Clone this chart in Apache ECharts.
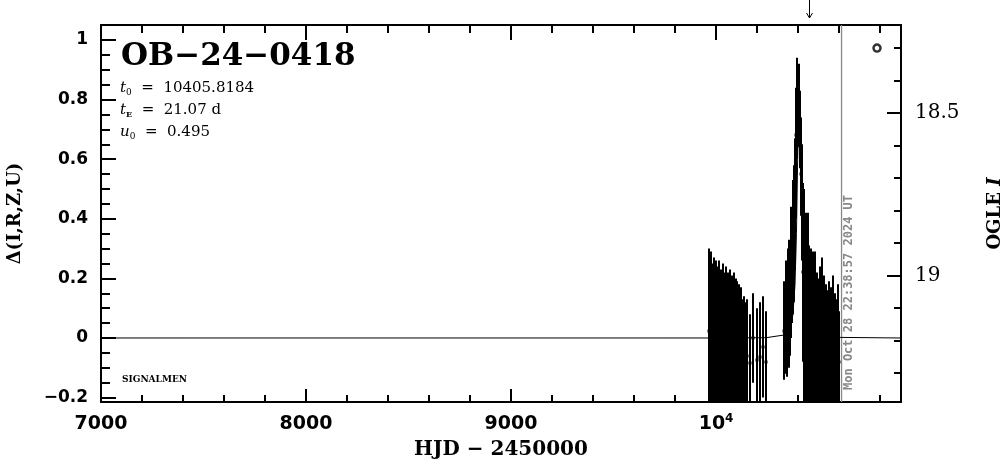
<!DOCTYPE html>
<html><head><meta charset="utf-8">
<script src="https://cdn.jsdelivr.net/npm/echarts@6/dist/echarts.min.js"></script>
<style>html,body{margin:0;padding:0;background:#fff}#c{width:1004px;height:459px}</style>
</head><body><div id="c"></div><script>
// ---- tick definitions ----
const xMajorTicks = [7000, 8000, 9000, 10000];
const xMinorTicks = [7200, 7400, 7600, 7800, 8200, 8400, 8600, 8800, 9200, 9400, 9600, 9800, 10200, 10400, 10600, 10800];
const yMajorTicks = [-0.2, 0, 0.2, 0.4, 0.6, 0.8, 1.0];
const yMinorTicks = [-0.15, -0.1, -0.05, 0.05, 0.1, 0.15, 0.25, 0.3, 0.35, 0.45, 0.5, 0.55, 0.65, 0.7, 0.75, 0.85, 0.9, 0.95];
const magMajorTicks = [18.5, 19];
const magMinorTicks = [18.3, 18.4, 18.6, 18.7, 18.8, 18.9, 19.1, 19.2, 19.3];

// ---- season 1 photometry (HJD-2450000, delta, error) ----
const s1Time = [9966,9969,9971,9974,9977,9980,9983,9986,9989,9992,9995,9998,10001,10004,10007,10010,10013,10016,10019,10022,10025,10028,10031,10034,10037,10040,10043,10046,10049,10052,10055,10058,10061,10064,10067,10070,10073,10076,10079,10082,10085,10088,10091,10094,10097,10100,10103,10106,10109,10112,10115,10118,10121,10125,10130,10135,10140,10150,10165,10180,10200,10215,10230,10244];
const s1Delta = [0.025,-0.06,0.015,0.015,0.02,-0.10,0.035,-0.025,0.01,0.01,-0.015,0.005,-0.06,-0.005,0.005,-0.02,0.005,-0.075,0.035,-0.01,-0.095,-0.025,0.0,0.0,-0.07,0.065,-0.055,-0.02,0.01,-0.08,-0.035,0.045,-0.06,-0.025,-0.045,0.02,-0.09,-0.03,0.05,-0.065,-0.035,-0.015,-0.03,-0.04,-0.025,-0.055,0.055,-0.085,-0.045,0.02,-0.07,-0.05,-0.04,-0.025,-0.095,-0.055,-0.065,-0.06,-0.085,0.0,-0.075,-0.065,-0.03,-0.08];
const s1Err = [0.275,0.16,0.265,0.165,0.27,0.15,0.215,0.225,0.26,0.11,0.235,0.255,0.14,0.245,0.145,0.23,0.255,0.175,0.155,0.24,0.155,0.225,0.17,0.25,0.18,0.155,0.195,0.23,0.23,0.17,0.215,0.175,0.19,0.225,0.205,0.21,0.16,0.22,0.16,0.185,0.215,0.235,0.13,0.21,0.225,0.195,0.135,0.165,0.205,0.16,0.18,0.20,0.21,0.155,0.155,0.195,0.185,0.19,0.165,0.15,0.175,0.185,0.17,0.17];

// ---- season 2 photometry ----
const s2Time = [10332,10335,10340,10344,10347,10351,10355,10358,10362,10366,10370,10374,10378,10383,10388,10391,10394,10397,10400,10403,10406,10409,10412,10415,10418,10421,10424,10427,10431,10435,10439,10443,10447,10451,10455,10459,10463,10467,10471,10475,10479,10483,10487,10491,10495,10499,10503,10507,10511,10515,10519,10523,10527,10531,10535,10539,10543,10547,10551,10555,10559,10563,10567,10571,10575,10580,10585,10590,10595,10600];
const s2Delta = [0.025,0.01,0.07,0.065,0.055,0.115,0.06,0.155,0.11,0.22,0.225,0.305,0.35,0.45,0.58,0.68,0.75,0.80,0.78,0.82,0.76,0.70,0.62,0.55,0.50,0.42,0.22,0.10,0.175,0.075,0.11,0.065,0.12,-0.025,0.09,-0.065,0.025,0.04,0.02,-0.085,0.055,0.02,-0.055,0.07,-0.10,-0.025,-0.045,0.06,-0.075,-0.03,0.065,-0.065,-0.02,-0.015,-0.035,-0.095,0.03,-0.07,-0.03,-0.015,-0.085,-0.04,0.0,-0.02,-0.075,-0.025,-0.09,-0.06,0.05,-0.08];
const s2Err = [0.165,0.11,0.19,0.115,0.185,0.185,0.16,0.175,0.17,0.22,0.175,0.225,0.23,0.22,0.18,0.16,0.15,0.14,0.12,0.10,0.12,0.13,0.12,0.14,0.15,0.16,0.30,0.35,0.325,0.325,0.31,0.315,0.30,0.225,0.22,0.185,0.275,0.14,0.27,0.165,0.215,0.27,0.195,0.15,0.15,0.225,0.205,0.18,0.175,0.22,0.205,0.185,0.23,0.165,0.215,0.155,0.13,0.18,0.22,0.145,0.165,0.21,0.12,0.23,0.175,0.175,0.16,0.19,0.13,0.17];

// ---- model curve ----
const modelTime = [7000,9966,10244,10332,10350,10365,10375,10385,10392,10398,10403,10406,10410,10415,10421,10428,10440,10460,10500,10605,10902];
const modelDelta = [0,0,0.001,0.01,0.02,0.04,0.08,0.18,0.35,0.6,0.78,0.82,0.76,0.6,0.4,0.2,0.08,0.03,0.01,0.002,0];

// ---- annotations ----
const nowTime = [10612];
const nowLabel = 'Mon Oct 28 22:38:57 2024 UT';
const arrowTime = [10453];
const ogleSymbol = [[10785, 18.30]];

const xMin = 7000, xMax = 10902;
const yMin = -0.2148, yMax = 1.0503;
const magMin = 18.229, magMax = 19.389;

const season1 = s1Time.map((t, i) => [t, s1Delta[i], s1Err[i]]);
const season2 = s2Time.map((t, i) => [t, s2Delta[i], s2Err[i]]);
const model = modelTime.map((t, i) => [t, modelDelta[i]]);

function errRender(params, api) {
  const t = api.value(0), v = api.value(1), e = api.value(2);
  const cs = params.coordSys;
  const p1 = api.coord([t, v - e]), p2 = api.coord([t, v + e]), pc = api.coord([t, v]);
  const top = cs.y, bot = cs.y + cs.height;
  const c = y => Math.min(Math.max(y, top), bot);
  const px = Math.round(pc[0]);
  return { type: 'group', children: [
    { type: 'line', shape: { x1: px, y1: c(p1[1]), x2: px, y2: c(p2[1]) }, style: { stroke: '#000', lineWidth: 2 } },
    { type: 'rect', shape: { x: px - 1.5, y: Math.round(pc[1]) - 1.5, width: 3, height: 3 }, style: { fill: '#000' } }
  ]};
}

const axisLineStyle = { color: '#000', width: 2 };
const tickStyle = { color: '#000', width: 2 };

const chart = echarts.init(document.getElementById('c'));
chart.setOption({
  backgroundColor: '#fff',
  animation: false,
  grid: { left: 101, right: 103, top: 25, bottom: 57, outerBoundsMode: 'none', containLabel: false },
  xAxis: [
    { type: 'value', min: xMin, max: xMax, position: 'bottom',
      axisLine: { show: true, onZero: false, lineStyle: axisLineStyle },
      axisTick: { show: true, inside: true, length: 13, customValues: xMajorTicks, lineStyle: tickStyle },
      axisLabel: { customValues: xMajorTicks, margin: 11, color: '#000',
        formatter: v => v === 10000 ? '{n|10}{s|4}' : '{n|' + v + '}',
        rich: { n: { fontFamily: 'DejaVu Sans', fontWeight: 'bold', fontSize: 19, lineHeight: 22 },
                s: { fontFamily: 'DejaVu Sans', fontWeight: 'bold', fontSize: 12, lineHeight: 22, verticalAlign: 'top' } } },
      splitLine: { show: false },
      name: 'HJD − 2450000', nameLocation: 'middle', nameGap: 38,
      nameTextStyle: { fontFamily: 'DejaVu Serif', fontWeight: 'bold', fontSize: 20, color: '#000' } },
    { type: 'value', min: xMin, max: xMax, position: 'bottom',
      axisLine: { show: false, onZero: false },
      axisTick: { show: true, inside: true, length: 7, customValues: xMinorTicks, lineStyle: tickStyle },
      axisLabel: { show: false }, splitLine: { show: false } },
    { type: 'value', min: xMin, max: xMax, position: 'top',
      axisLine: { show: true, onZero: false, lineStyle: axisLineStyle },
      axisTick: { show: true, inside: true, length: 15, customValues: xMajorTicks, lineStyle: tickStyle },
      axisLabel: { show: false }, splitLine: { show: false } },
    { type: 'value', min: xMin, max: xMax, position: 'top',
      axisLine: { show: false, onZero: false },
      axisTick: { show: true, inside: true, length: 8, customValues: xMinorTicks, lineStyle: tickStyle },
      axisLabel: { show: false }, splitLine: { show: false } }
  ],
  yAxis: [
    { type: 'value', min: yMin, max: yMax, position: 'left',
      axisLine: { show: true, onZero: false, lineStyle: axisLineStyle },
      axisTick: { show: true, inside: true, length: 15, customValues: yMajorTicks, lineStyle: tickStyle },
      axisLabel: { customValues: yMajorTicks, margin: 13, color: '#000', fontFamily: 'DejaVu Sans', fontWeight: 'bold', fontSize: 17,
        formatter: v => v === 0 ? '0' : (v === 1 ? '1' : (v < 0 ? '−' + Math.abs(v).toFixed(1) : v.toFixed(1))) },
      splitLine: { show: false },
      name: 'Δ(I,R,Z,U)', nameLocation: 'middle', nameGap: 77, nameRotate: 90,
      nameTextStyle: { fontFamily: 'DejaVu Serif', fontWeight: 'bold', fontSize: 18, color: '#000' } },
    { type: 'value', min: yMin, max: yMax, position: 'left',
      axisLine: { show: false, onZero: false },
      axisTick: { show: true, inside: true, length: 9, customValues: yMinorTicks, lineStyle: tickStyle },
      axisLabel: { show: false }, splitLine: { show: false } },
    { type: 'value', min: magMin, max: magMax, inverse: true, position: 'right',
      axisLine: { show: true, onZero: false, lineStyle: axisLineStyle },
      axisTick: { show: true, inside: true, length: 14, customValues: magMajorTicks, lineStyle: tickStyle },
      axisLabel: { customValues: magMajorTicks, margin: 14, color: '#000', fontFamily: 'DejaVu Serif', fontSize: 20,
        formatter: v => String(v) },
      splitLine: { show: false },
      name: '{n|OGLE }{i|I}', nameLocation: 'middle', nameGap: 85, nameRotate: 90,
      nameTextStyle: { color: '#000', rich: {
        n: { fontFamily: 'DejaVu Serif', fontWeight: 'bold', fontSize: 18 },
        i: { fontFamily: 'DejaVu Serif', fontWeight: 'bold', fontStyle: 'italic', fontSize: 18 } } } },
    { type: 'value', min: magMin, max: magMax, inverse: true, position: 'right',
      axisLine: { show: false, onZero: false },
      axisTick: { show: true, inside: true, length: 7, customValues: magMinorTicks, lineStyle: tickStyle },
      axisLabel: { show: false }, splitLine: { show: false } }
  ],
  series: [
    { type: 'line', name: 'model', data: model, xAxisIndex: 0, yAxisIndex: 0, showSymbol: false, symbol: 'none',
      lineStyle: { color: '#000', width: 1 }, z: 3 },
    { type: 'custom', name: 'season1', data: season1, xAxisIndex: 0, yAxisIndex: 0, renderItem: errRender,
      encode: { x: 0, y: 1 }, z: 4 },
    { type: 'custom', name: 'season2', data: season2, xAxisIndex: 0, yAxisIndex: 0, renderItem: errRender,
      encode: { x: 0, y: 1 }, z: 4 },
    { type: 'custom', name: 'now', data: nowTime.map(t => [t, 0]), xAxisIndex: 0, yAxisIndex: 0, clip: false,
      encode: { x: 0, y: 1 }, z: 2,
      renderItem: (params, api) => {
        const cs = params.coordSys;
        const px = api.coord([api.value(0), 0])[0];
        const bot = cs.y + cs.height;
        return { type: 'group', children: [
          { type: 'line', shape: { x1: px, y1: cs.y, x2: px, y2: bot }, style: { stroke: '#888', lineWidth: 1.3 } },
          { type: 'text', x: px + 7, y: bot - 12, rotation: Math.PI / 2,
            style: { text: nowLabel, fill: '#888', font: 'bold 12px "DejaVu Sans Mono"', align: 'left', verticalAlign: 'middle' } }
        ]};
      } },
    { type: 'custom', name: 'arrow', data: arrowTime.map(t => [t, 1]), xAxisIndex: 0, yAxisIndex: 0, clip: false,
      encode: { x: 0, y: 1 }, z: 5,
      renderItem: (params, api) => {
        const cs = params.coordSys;
        const px = Math.round(api.coord([api.value(0), 1])[0]) + 0.5;
        const tip = cs.y - 7;
        return { type: 'group', children: [
          { type: 'line', shape: { x1: px, y1: cs.y - 25, x2: px, y2: tip }, style: { stroke: '#000', lineWidth: 1 } },
          { type: 'polyline', shape: { points: [[px - 3, tip - 5], [px, tip], [px + 3, tip - 5]] }, style: { stroke: '#000', lineWidth: 1, fill: null } }
        ]};
      } },
    { type: 'scatter', name: 'OGLE', data: ogleSymbol, xAxisIndex: 0, yAxisIndex: 2, symbol: 'circle', symbolSize: 7,
      itemStyle: { color: '#fff', borderColor: '#000', borderWidth: 2.5 }, z: 5 }
  ],
  graphic: [
    { type: 'text', x: 121, y: 57, style: { text: 'OB−24−0418', font: 'bold 31px "DejaVu Serif"', fill: '#000', align: 'left', verticalAlign: 'middle' } },
    { type: 'text', x: 120, y: 88, style: { text: '{v|t}{s|0}  =  10405.8184', font: '15px "DejaVu Serif"', fill: '#000', verticalAlign: 'middle',
        rich: { v: { fontFamily: 'DejaVu Serif', fontStyle: 'italic', fontSize: 15, lineHeight: 18 }, s: { fontFamily: 'DejaVu Serif', fontSize: 9, lineHeight: 18, verticalAlign: 'bottom' } } } },
    { type: 'text', x: 120, y: 110, style: { text: '{v|t}{s|E}  =  21.07 d', font: '15px "DejaVu Serif"', fill: '#000', verticalAlign: 'middle',
        rich: { v: { fontFamily: 'DejaVu Serif', fontStyle: 'italic', fontSize: 15, lineHeight: 18 }, s: { fontFamily: 'DejaVu Serif', fontWeight: 'bold', fontSize: 8, lineHeight: 18, verticalAlign: 'bottom' } } } },
    { type: 'text', x: 120, y: 132, style: { text: '{v|u}{s|0}  =  0.495', font: '15px "DejaVu Serif"', fill: '#000', verticalAlign: 'middle',
        rich: { v: { fontFamily: 'DejaVu Serif', fontStyle: 'italic', fontSize: 15, lineHeight: 18 }, s: { fontFamily: 'DejaVu Serif', fontSize: 9, lineHeight: 18, verticalAlign: 'bottom' } } } },
    { type: 'text', x: 122, y: 380, style: { text: 'SIGNALMEN', font: 'bold 9px "DejaVu Serif"', fill: '#000', verticalAlign: 'middle' } }
  ]
});
</script></body></html>
